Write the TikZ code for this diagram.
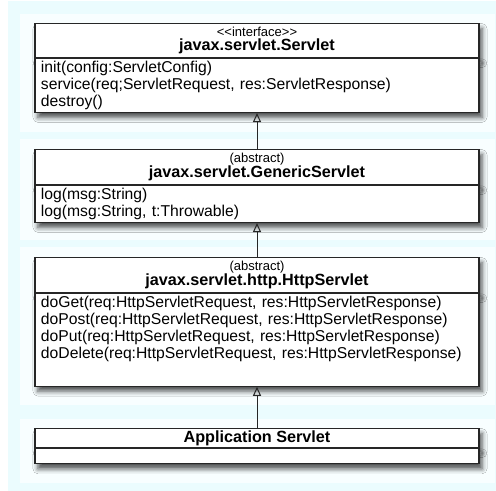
\documentclass[tikz,border=0pt]{standalone}
\usepackage{fontspec}
\setmainfont{Liberation Sans}
\usepackage{tikz}
\usetikzlibrary{%
  arrows.meta,%
  positioning,% wg. " of "
  shadows.blur%
}
\definecolor{outerbg}{HTML}{EBFCFE}
\definecolor{panelbg}{HTML}{F8FEFF}
\newcommand\classname[1]{{\fontsize{16.2bp}{16bp}\selectfont\bfseries #1}}

\begin{document}
\begin{tikzpicture}
[x=1bp, y=1bp, draw=black!85, line width=1.2bp, >={Triangle[open, length=9bp, width=8bp]},
classhead/.style={rectangle, draw, fill=white, inner sep=0pt, minimum width=444bp, anchor=north,
  align=center, font=\fontsize{13bp}{14bp}\selectfont,
  blur shadow={shadow xshift=3bp, shadow yshift=-5bp, shadow blur radius=5bp, shadow opacity=70}},
classbody/.style={rectangle, draw, fill=white, inner xsep=6bp, inner ysep=2.5bp, text width=432bp,
  align=left, font=\fontsize{15.7bp}{17bp}\selectfont,
  blur shadow={shadow xshift=3bp, shadow yshift=-5bp, shadow blur radius=5bp, shadow opacity=70}}]

\useasboundingbox (0,0) rectangle (496,491);
\fill[outerbg] (8,0) rectangle (496,490);
\fill[panelbg] (20,477) rectangle (495,359);
\fill[panelbg] (20,352) rectangle (495,251);
\fill[panelbg] (20,244) rectangle (495,86);
\fill[panelbg] (20,72) rectangle (495,8);

\node[classhead, minimum height=34bp] (servlethead) at (257,468)
  {<\kern0pt<interface>\kern0pt>\\ \classname{javax.servlet.Servlet}};
\node[classbody, below=0pt of servlethead] (servletbody)
  {init(config:ServletConfig)\\
   service(req;ServletRequest, res:ServletResponse)\\
   destroy()};

\node[classhead, minimum height=35bp] (generichead) at (257,342)
  {(abstract)\\ \classname{javax.servlet.GenericServlet}}
  edge [->, line width=1bp] (servletbody);
\node[classbody, below=0pt of generichead] (genericbody)
  {log(msg:String)\\
   log(msg:String, t:Throwable)};

\node[classhead, minimum height=35bp] (httphead) at (257,234)
  {(abstract)\\ \classname{javax.servlet.http.HttpServlet}}
  edge [->, line width=1bp] (genericbody);
\node[classbody, below=0pt of httphead, text depth=76bp] (httpbody)
  {doGet(req:HttpServletRequest, res:HttpServletResponse)\\
   doPost(req:HttpServletRequest, res:HttpServletResponse)\\
   doPut(req:HttpServletRequest, res:HttpServletResponse)\\
   doDelete(req:HttpServletRequest, res:HttpServletResponse)};

\node[classhead, minimum height=19bp] (apphead) at (257,63)
  {\classname{Application Servlet}}
  edge [->, line width=1bp] (httpbody);
\node[classbody, below=0pt of apphead, minimum height=15bp] (appbody) {};
\end{tikzpicture}
\end{document}
